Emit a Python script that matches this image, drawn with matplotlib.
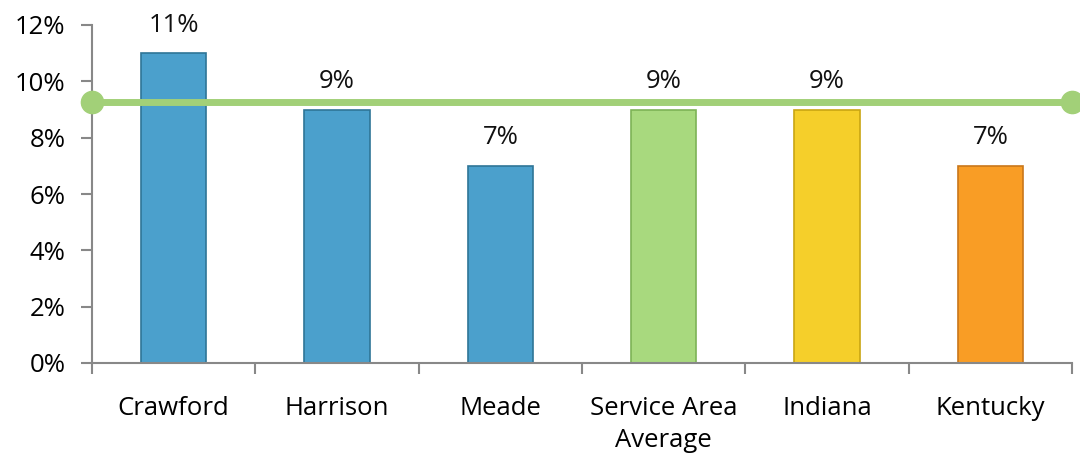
import matplotlib
matplotlib.use('Agg')
import matplotlib.pyplot as plt
import numpy as np

categories = ['Crawford', 'Harrison', 'Meade', 'Service Area\nAverage', 'Indiana', 'Kentucky']
values = [11, 9, 7, 9, 9, 7]
bar_colors = ['#4BA0CC', '#4BA0CC', '#4BA0CC', '#A8D97E', '#F5CF2A', '#F99D25']
edge_colors = ['#2F7597', '#2F7597', '#2F7597', '#7DB356', '#C9A612', '#C9771A']
avg_line = 9.25

plt.rcParams['font.family'] = ['Open Sans', 'DejaVu Sans']
fs = 18.5

fig = plt.figure(figsize=(10.8, 4.58), dpi=100)
ax = fig.add_axes([92/1080, 1 - 363/458, 980/1080, 338/458])

x = np.arange(len(categories))
bars = ax.bar(x, values, width=0.4, color=bar_colors, edgecolor=edge_colors, linewidth=1.2, zorder=2)

for xi, v in zip(x, values):
    ax.text(xi, v + 0.55, f'{v}%', ha='center', va='bottom', fontsize=fs, color='#111111')

# average line across the whole plot with round end points
ax.plot([-0.5, len(categories) - 0.5], [avg_line, avg_line], color='#A2D078', lw=5,
        marker='o', markersize=16, clip_on=False, zorder=3)

ax.set_xlim(-0.5, len(categories) - 0.5)
ax.set_ylim(0, 12)
ax.set_yticks(np.arange(0, 13, 2))
ax.set_yticklabels([f'{t}%' for t in range(0, 13, 2)], fontsize=fs)
ax.set_xticks(x)
ax.set_xticklabels(categories, fontsize=fs, linespacing=1.35)
ax.tick_params(axis='x', length=0, pad=24)
ax.tick_params(axis='y', length=8, width=1.5, color='#888888', pad=11)

# category boundary ticks below x axis
ax.set_xticks(np.arange(-0.5, len(categories)), minor=True)
ax.tick_params(axis='x', which='minor', length=8, width=1.5, color='#888888')

for s in ['top', 'right']:
    ax.spines[s].set_visible(False)
for s in ['left', 'bottom']:
    ax.spines[s].set_color('#888888')
    ax.spines[s].set_linewidth(1.5)

fig.savefig('out.png', dpi=100)
